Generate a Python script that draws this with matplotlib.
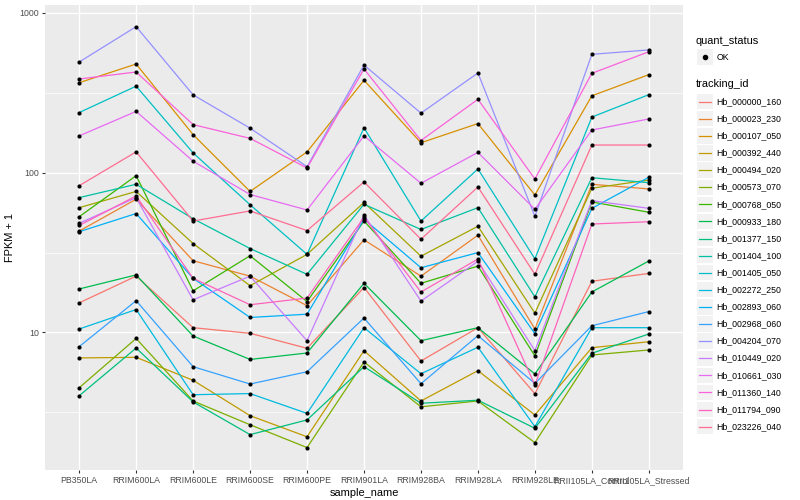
import matplotlib
matplotlib.use("Agg")
import matplotlib.pyplot as plt
from matplotlib.patches import Rectangle
from matplotlib.ticker import FixedLocator, NullFormatter

plt.rcParams['font.family'] = ['Liberation Sans', 'DejaVu Sans']

# ---- data (FPKM + 1) ----
samples = ['PB350LA', 'RRIM600LA', 'RRIM600LE', 'RRIM600SE', 'RRIM600PE',
           'RRIM901LA', 'RRIM928BA', 'RRIM928LA', 'RRIM928LE',
           'RRII105LA_Control', 'RRII105LA_Stressed']

tracking_ids = ['Hb_000000_160', 'Hb_000023_230', 'Hb_000107_050', 'Hb_000392_440',
                'Hb_000494_020', 'Hb_000573_070', 'Hb_000768_050', 'Hb_000933_180',
                'Hb_001377_150', 'Hb_001404_100', 'Hb_001405_050', 'Hb_002272_250',
                'Hb_002893_060', 'Hb_002968_060', 'Hb_004204_070', 'Hb_010449_020',
                'Hb_010661_030', 'Hb_011360_140', 'Hb_011794_090', 'Hb_023226_040']

hb_000000_160 = [15.3, 22.5, 10.7, 9.87, 7.95, 19.1, 6.62, 10.7, 4.13, 20.9, 23.4]
hb_000023_230 = [43.1, 68.2, 28.1, 22.5, 14.7, 38.0, 22.5, 40.6, 10.5, 84.6, 79.1]
hb_000107_050 = [366, 479, 173, 76.3, 135, 379, 154, 203, 72.5, 303, 411]
hb_000392_440 = [6.92, 6.98, 5.01, 3.01, 2.22, 7.68, 3.72, 5.76, 3.04, 8.02, 8.74]
hb_000494_020 = [60.4, 76.3, 36.0, 19.6, 30.8, 65.1, 30.0, 46.2, 13.2, 79.9, 90.0]
hb_000573_070 = [4.50, 9.16, 3.72, 2.64, 1.90, 6.53, 3.42, 3.72, 2.04, 7.22, 7.76]
hb_000768_050 = [53.0, 95.8, 18.2, 30.2, 15.6, 49.8, 20.3, 26.0, 7.12, 65.6, 56.5]
hb_000933_180 = [18.7, 22.9, 9.49, 6.77, 7.43, 20.3, 8.87, 10.7, 5.49, 17.9, 28.0]
hb_001377_150 = [4.01, 7.98, 3.67, 2.29, 2.83, 6.10, 3.60, 3.76, 2.51, 7.40, 9.77]
hb_001404_100 = [69.8, 84.6, 51.5, 33.5, 23.1, 63.4, 44.1, 60.4, 16.7, 93.0, 86.6]
hb_001405_050 = [238, 348, 133, 63.0, 30.8, 191, 49.8, 105.5, 28.9, 223, 308]
hb_002272_250 = [10.5, 13.9, 4.07, 4.14, 3.11, 10.7, 5.51, 8.07, 2.57, 10.7, 10.7]
hb_002893_060 = [42.7, 55.5, 21.8, 12.4, 13.0, 51.1, 25.4, 31.6, 9.81, 59.8, 93.6]
hb_002968_060 = [8.14, 15.8, 6.10, 4.75, 5.67, 12.3, 4.77, 9.54, 4.79, 11.0, 13.5]
hb_004204_070 = [493, 821, 307, 190, 109, 472, 236, 421, 53.3, 551, 587]
hb_010449_020 = [48.2, 69.8, 16.0, 22.5, 8.87, 54.3, 15.7, 27.9, 7.68, 66.8, 59.8]
hb_010661_030 = [170, 242, 118, 73.0, 58.4, 170, 85.8, 134, 59.0, 185, 217]
hb_011360_140 = [386, 427, 200, 164, 107, 446, 159, 288, 91.3, 419, 572]
hb_011794_090 = [46.7, 71.5, 21.8, 14.9, 16.4, 52.6, 17.9, 28.8, 4.68, 47.7, 49.3]
hb_023226_040 = [82.9, 135, 49.8, 57.6, 43.4, 87.5, 38.3, 81.4, 23.1, 149, 149]

series = [hb_000000_160, hb_000023_230, hb_000107_050, hb_000392_440, hb_000494_020,
          hb_000573_070, hb_000768_050, hb_000933_180, hb_001377_150, hb_001404_100,
          hb_001405_050, hb_002272_250, hb_002893_060, hb_002968_060, hb_004204_070,
          hb_010449_020, hb_010661_030, hb_011360_140, hb_011794_090, hb_023226_040]

# ggplot2 hue palette for 20 levels
colors = ["#F8766D", "#EA8331", "#D89000", "#C09B00", "#A3A500", "#7CAE00", "#39B600",
          "#00BB4E", "#00BF7D", "#00C1A3", "#00BFC4", "#00BAE0", "#00B0F6", "#35A2FF",
          "#9590FF", "#C77CFF", "#E76BF3", "#FA62DB", "#FF62BC", "#FF6C91"]

# ---- figure ----
fig = plt.figure(figsize=(8, 5), dpi=100)
ax = fig.add_axes([45 / 800, 30 / 500, 638 / 800, 465 / 500])
ax.set_facecolor('#EBEBEB')

x = list(range(len(samples)))
for vals, c in zip(series, colors):
    ax.plot(x, vals, color=c, linewidth=0.9, zorder=3)
for vals in series:
    ax.scatter(x, vals, s=9, color='black', zorder=4, linewidths=0)

ax.set_yscale('log')
ax.set_ylim(1.375, 1122)
ax.set_xlim(-0.6, 10.6)
ax.yaxis.set_major_locator(FixedLocator([10, 100, 1000]))
ax.set_yticklabels(['10', '100', '1000'])
ax.yaxis.set_minor_locator(FixedLocator([10 ** 0.5, 10 ** 1.5, 10 ** 2.5]))
ax.yaxis.set_minor_formatter(NullFormatter())
ax.set_xticks(x)
ax.set_xticklabels(samples)

ax.grid(True, which='major', color='white', linewidth=1.0, zorder=0)
ax.grid(True, which='minor', axis='y', color='white', linewidth=0.5, zorder=0)
ax.set_axisbelow(True)
for s in ax.spines.values():
    s.set_visible(False)
ax.tick_params(which='major', length=2.5, width=0.8, color='#333333',
               labelcolor='#4D4D4D', labelsize=6.3, pad=2)
ax.tick_params(which='minor', length=0)

ax.set_xlabel('sample_name', fontsize=7.9, labelpad=2)
ax.set_ylabel('FPKM + 1', fontsize=7.9, labelpad=3)

# ---- legends drawn in pixel coordinates ----
lax = fig.add_axes([0, 0, 1, 1], zorder=-1)
lax.set_xlim(0, 800)
lax.set_ylim(500, 0)
lax.axis('off')

lax.text(696, 40.7, 'quant_status', fontsize=7.9, va='center', ha='left')
lax.add_patch(Rectangle((697.3, 49.3), 15.3, 15.3, color='#F2F2F2', lw=0))
lax.plot([705], [57], 'o', color='black', markersize=3)
lax.text(716.7, 57, 'OK', fontsize=6.3, va='center', ha='left')

lax.text(696, 84, 'tracking_id', fontsize=7.9, va='center', ha='left')
for i, (tid, c) in enumerate(zip(tracking_ids, colors)):
    yc = 101.7 + i * 17.1
    lax.add_patch(Rectangle((697.3, yc - 7.65), 15.3, 15.3, color='#F2F2F2', lw=0))
    lax.plot([699, 711], [yc, yc], color=c, linewidth=0.9)
    lax.text(716.7, yc, tid, fontsize=6.3, va='center', ha='left')

fig.savefig('out.png', dpi=100)
